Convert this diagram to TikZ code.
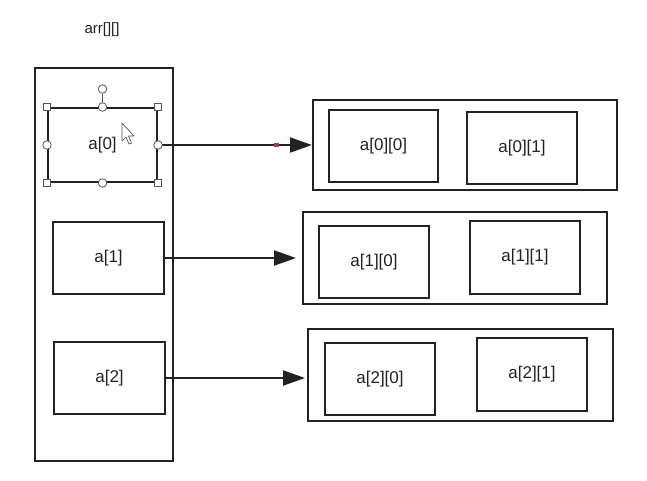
\documentclass[tikz,border=0pt]{standalone}
\usepackage{fontspec}
\setmainfont{Liberation Sans}
\usetikzlibrary{arrows.meta}
\definecolor{ink}{HTML}{222222}
\definecolor{hgray}{HTML}{555555}
\definecolor{pinkdot}{HTML}{B0305A}
\tikzset{
  cell/.style={draw=ink, line width=2pt, inner sep=0pt, fill=white, font=\fontsize{17}{20}\selectfont, text=ink},
  frame/.style={draw=ink, line width=2pt, inner sep=0pt},
  arr/.style={draw=ink, line width=2pt, -{Triangle[length=22pt,width=15pt]}},
  sqhandle/.style={draw=hgray, fill=white, line width=0.8pt, minimum size=7pt, inner sep=0pt},
  cihandle/.style={draw=hgray, fill=white, line width=0.8pt, circle, minimum size=8.5pt, inner sep=0pt},
}
\begin{document}
\begin{tikzpicture}[x=1pt,y=-1pt]
\useasboundingbox[fill=white] (0,0) rectangle (647,481);
% title
\node[font=\fontsize{15}{18}\selectfont, text=ink] (title) at (102,30) {arr[][]};
% left column
\node[frame, minimum width=138pt, minimum height=393pt] (left) at (104,264.5) {};
\node[cell, minimum width=109pt, minimum height=74pt] (a0) at (102.5,145) {a[0]};
\node[cell, minimum width=111pt, minimum height=72pt] (a1) at (108.5,258) {a[1]};
\node[cell, minimum width=111pt, minimum height=72pt] (a2) at (109.5,378) {a[2]};
% rows
\node[frame, minimum width=304pt, minimum height=90pt] (r0) at (465,145) {};
\node[cell, minimum width=109pt, minimum height=72pt] (a00) at (383.5,146) {a[0][0]};
\node[cell, minimum width=110pt, minimum height=72pt] (a01) at (522,148) {a[0][1]};
\node[frame, minimum width=304pt, minimum height=92pt] (r1) at (455,258) {};
\node[cell, minimum width=110pt, minimum height=72pt] (a10) at (374,262) {a[1][0]};
\node[cell, minimum width=110pt, minimum height=73pt] (a11) at (525,257.5) {a[1][1]};
\node[frame, minimum width=305pt, minimum height=92pt] (r2) at (460.5,375) {};
\node[cell, minimum width=110pt, minimum height=72pt] (a20) at (380,379) {a[2][0]};
\node[cell, minimum width=110pt, minimum height=73pt] (a21) at (532,374.5) {a[2][1]};
% arrow ends
\coordinate (e1) at ([xshift=-6pt]r1.west);
\coordinate (e2) at ([xshift=-2pt]r2.west |- a2.east);
\draw[arr] (a0.east) -- (r0.west);
\draw[arr] (a1.east) -- (e1);
\draw[arr] (a2.east) -- (e2);
% selection handles on a[0]
\node[cihandle] (rot) at (102.5,89) {};
\draw[hgray, line width=0.8pt] (rot) -- (a0.north);
\node[sqhandle] (h1) at (a0.north west) {};
\node[sqhandle] (h2) at (a0.north east) {};
\node[sqhandle] (h3) at (a0.south west) {};
\node[sqhandle] (h4) at (a0.south east) {};
\node[cihandle] (h5) at (a0.north) {};
\node[cihandle] (h6) at (a0.south) {};
\node[cihandle] (h7) at (a0.west) {};
\node[cihandle] (h8) at (a0.east) {};
% small marker on arrow
\fill[pinkdot] (274,143) rectangle (279,147);
% mouse cursor
\filldraw[draw=hgray, fill=white, line width=0.7pt, line join=round]
  (122,123) -- (122,141) -- (126,137) -- (129,144) -- (131.5,143) -- (128.5,136) -- (134,136) -- cycle;
\end{tikzpicture}
\end{document}
